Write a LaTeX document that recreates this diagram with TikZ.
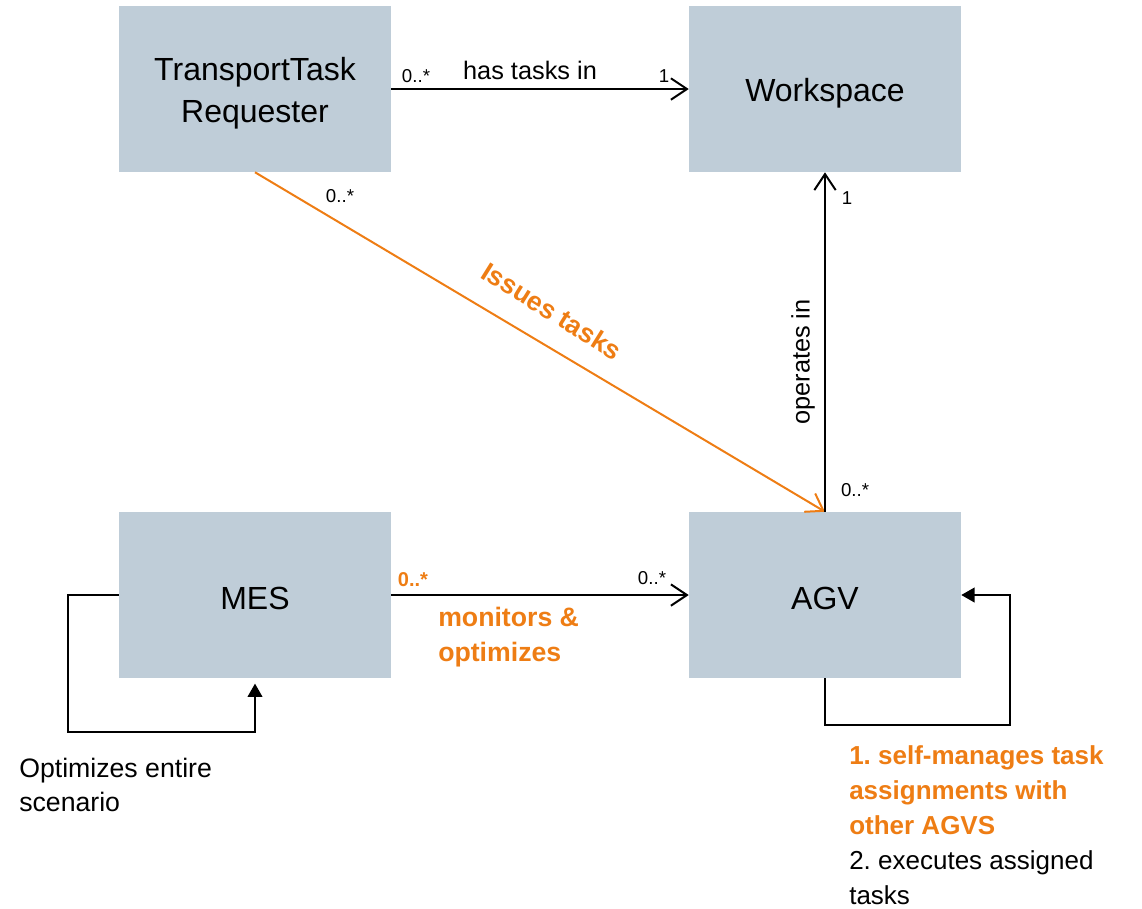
\documentclass[tikz,border=0pt]{standalone}
\usepackage{fontspec}
\setmainfont{Liberation Sans}
\frenchspacing
\usetikzlibrary{arrows.meta,calc}
\definecolor{boxfill}{HTML}{BFCDD8}
\definecolor{accent}{HTML}{EE7D14}
\begin{document}
\begin{tikzpicture}[x=0.75pt,y=-0.75pt,
  entity/.style={fill=boxfill, draw=none, minimum width=204pt, minimum height=124.5pt,
    inner sep=0pt},
  entitytext/.style={inner sep=0pt, align=center, font=\fontsize{24}{31.5}\selectfont},
  mult/.style={inner sep=0pt, font=\fontsize{14}{16}\selectfont},
  rel/.style={inner sep=0pt, font=\fontsize{19}{23}\selectfont},
  note/.style={inner sep=0pt, align=left, anchor=west},
  assoc/.style={line width=1.5pt, -{Straight Barb[length=12pt,width=16pt,line width=1.5pt]}},
  selfloop/.style={line width=1.5pt, -{Triangle[length=10pt,width=11pt]}}
]
\useasboundingbox (0,0) rectangle (1142,908);

% classes
\node[entity] (ttr) at (255,89) {};
\node[entity] (ws)  at (825,89) {};
\node[entity] (mes) at (255,595) {};
\node[entity] (agv) at (825,595) {};
\node[entitytext] (ttrname) at ($(ttr)+(0,4)$) {TransportTask\\Requester};
\node[entitytext] (wsname)  at ($(ws)+(0,4)$)  {Workspace};
\node[entitytext] (mesname) at ($(mes)+(0,3)$) {MES};
\node[entitytext] (agvname) at ($(agv)+(0,3)$) {AGV};

% TransportTaskRequester -> Workspace
\draw[assoc] (ttr.east) -- (ws.west);
\node[mult] (m1) at (416,76) {0..*};
\node[rel]  (l1) at (530,70) {has tasks in};
\node[mult] (m2) at (664,76) {1};

% TransportTaskRequester -> AGV (issues tasks)
\draw[assoc, draw=accent, -{Straight Barb[length=12pt,width=16pt,line width=1.5pt,color=accent]}]
  (ttr.south) -- (agv.north);
\node[mult] (m3) at (340,196) {0..*};
\node[rel, text=accent, font=\fontsize{20}{24}\selectfont\bfseries, rotate=-32] (l2)
  at (552,311) {Issues tasks};

% AGV -> Workspace
\draw[assoc] (agv.north) -- (ws.south);
\node[mult] (m4) at (847,198) {1};
\node[mult] (m5) at (855,490) {0..*};
\node[rel, rotate=90] (l3) at (803,362) {operates in};

% MES -> AGV
\draw[assoc] (mes.east) -- (agv.west);
\node[mult, text=accent, font=\fontsize{15}{17}\selectfont\bfseries] (m6) at (413,580) {0..*};
\node[mult] (m7) at (652,578) {0..*};
\node[note, text=accent, font=\fontsize{20}{26}\selectfont\bfseries] (l4) at (438,637)
  {monitors \&\\optimizes};

% MES self-loop
\coordinate (mesturn) at (68,732);
\draw[selfloop, shorten >=4pt] (mes.west) -| (mesturn) -| (mes.south);
\node[note, font=\fontsize{20}{25}\selectfont] (l5) at (19,785)
  {Optimizes entire\\scenario};

% AGV self-loop
\coordinate (agvturn) at (1010,725);
\draw[selfloop] (agv.south) |- (agvturn) |- (agv.east);
\node[note, font=\fontsize{19.5}{26.25}\selectfont] (l6) at (849,825)
  {\textcolor{accent}{\bfseries 1. self-manages task}\\
   \textcolor{accent}{\bfseries assignments with}\\
   \textcolor{accent}{\bfseries other AGVS}\\
   2. executes assigned\\
   tasks};
\end{tikzpicture}
\end{document}
